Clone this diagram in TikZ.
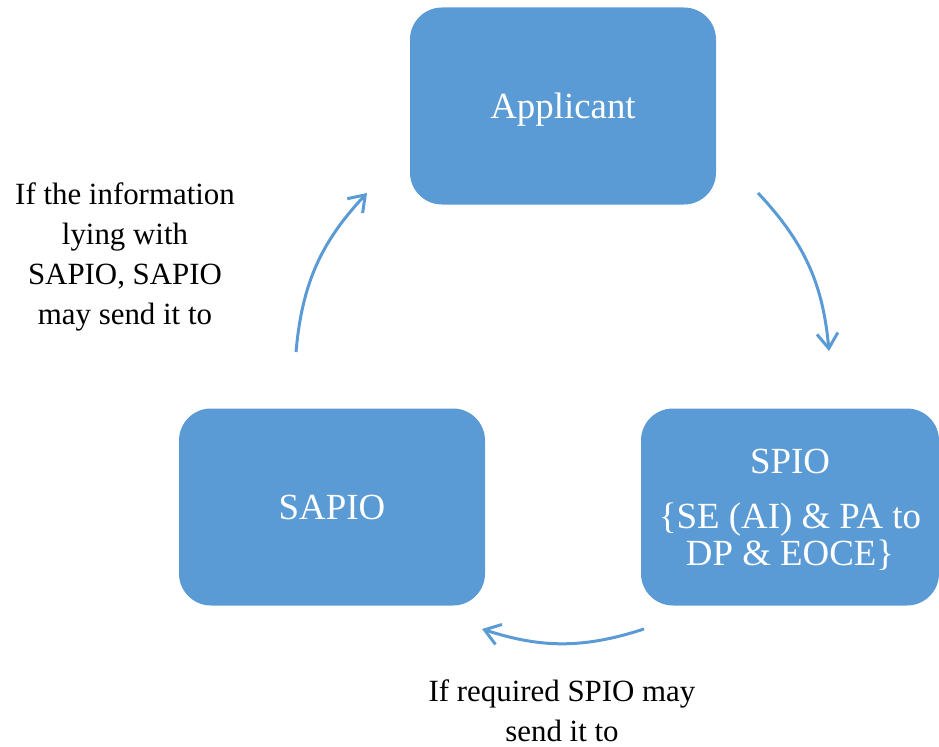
\documentclass[tikz,border=0pt]{standalone}
\usepackage{fontspec}
\setmainfont{Liberation Serif}
\usetikzlibrary{arrows.meta}
\definecolor{colorBox}{HTML}{5B9BD5}
\tikzset{
  box/.style={fill=colorBox, rounded corners=32bp, text=white, inner sep=0pt, minimum width=306bp, minimum height=197bp, align=center, font=\fontsize{37}{37}\selectfont},
  flow/.style={->, colorBox, line width=3bp},
  note/.style={align=center, font=\fontsize{31}{40}\selectfont}
}

\begin{document}
\begin{tikzpicture}[x=1bp, y=1bp, >={Straight Barb[length=15bp, width=21bp]}]
\useasboundingbox (0,0) rectangle (939,-747);
\node[box, text depth=0pt] (applicant) at (563,-106) {Applicant};
\node[box] (sapio) at (332,-507) {SAPIO};
\node[box, minimum width=298bp, text depth=0pt] (spio) at (790,-507) {SPIO\\[18bp]\{SE (AI) \& PA to\\DP \& EOCE\}};
\coordinate (topright) at (758,-193);
\coordinate (midright) at (829,-351);
\coordinate (botright) at (644,-629);
\coordinate (botleft) at (482,-629);
\coordinate (midleft) at (296,-352);
\coordinate (topleft) at (367,-193);
\draw[flow] (topright) to[bend left=19] (midright);
\draw[flow] (botright) to[bend left=18] (botleft);
\draw[flow] (midleft) to[bend left=19] (topleft);
\node[note] (sendsapio) at (125,-257) {If the information\\lying with\\SAPIO, SAPIO\\may send it to};
\node[note] (sendspio) at (562,-711) {If required SPIO may\\send it to};
\end{tikzpicture}
\end{document}
